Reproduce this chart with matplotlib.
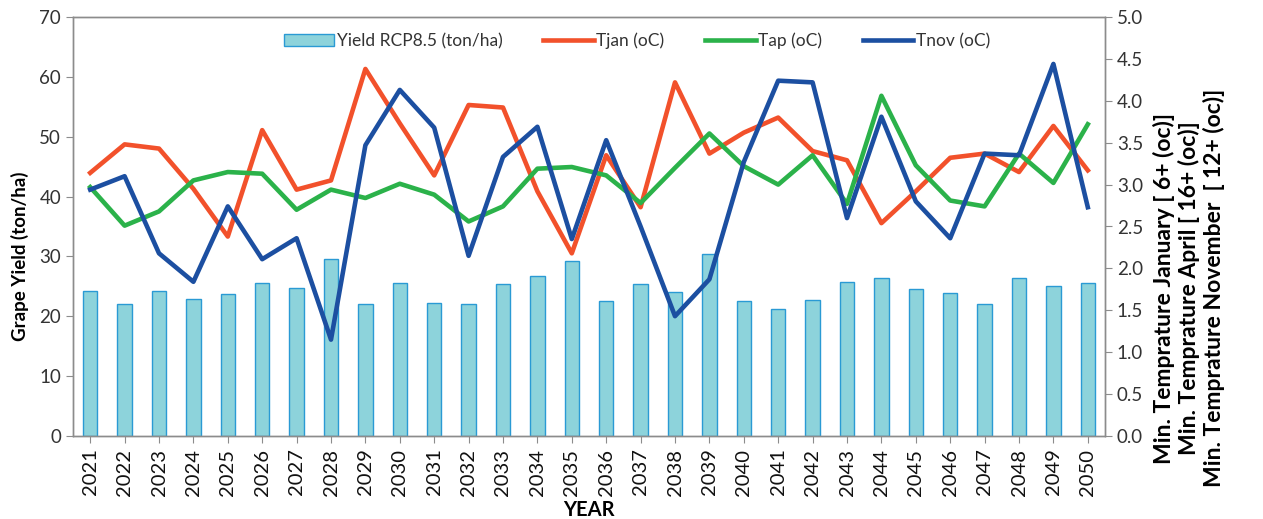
import matplotlib
matplotlib.use("Agg")
import matplotlib.pyplot as plt
import numpy as np

years = [str(y) for y in range(2021, 2051)]
yield_rcp85 = [24.2, 22.1, 24.2, 22.9, 23.7, 25.6, 24.8, 29.6, 22.1, 25.6,
               22.3, 22.0, 25.4, 26.7, 29.3, 22.5, 25.4, 24.1, 30.4, 22.5,
               21.2, 22.7, 25.7, 26.4, 24.6, 23.9, 22.1, 26.4, 25.0, 25.6]
tjan = [3.14, 3.48, 3.43, 2.95, 2.38, 3.65, 2.94, 3.05, 4.38, 3.73,
        3.11, 3.95, 3.92, 2.92, 2.18, 3.35, 2.73, 4.22, 3.37, 3.62,
        3.80, 3.40, 3.29, 2.54, 2.92, 3.32, 3.37, 3.15, 3.70, 3.17]
tap = [2.97, 2.51, 2.68, 3.05, 3.15, 3.13, 2.70, 2.94, 2.84, 3.01,
       2.88, 2.56, 2.74, 3.19, 3.21, 3.11, 2.78, 3.20, 3.61, 3.22,
       3.00, 3.35, 2.77, 4.06, 3.23, 2.81, 2.74, 3.37, 3.02, 3.72]
tnov = [2.94, 3.10, 2.18, 1.84, 2.74, 2.11, 2.36, 1.15, 3.47, 4.13,
        3.68, 2.15, 3.33, 3.69, 2.35, 3.53, 2.50, 1.43, 1.87, 3.27,
        4.24, 4.22, 2.60, 3.81, 2.80, 2.36, 3.37, 3.35, 4.44, 2.73]

plt.rcParams['font.family'] = ['Lato', 'DejaVu Sans']

W, H = 1263, 519
fig = plt.figure(figsize=(W/100, H/100), dpi=100)
L, R, T, B = 73, 1105, 17, 436
ax = fig.add_axes([L/W, 1-B/H, (R-L)/W, (B-T)/H])
ax2 = ax.twinx()

def fx(px):
    return (px - L) / (R - L)

def fy(py):
    return (B - py) / (B - T)

x = np.arange(len(years))
spine_c = '#8c8c8c'

bars = ax.bar(x, yield_rcp85, width=0.42, color='#8DD3DB', edgecolor='#2A9AD4',
              linewidth=1.0, label='Yield RCP8.5 (ton/ha)', zorder=2)
l1, = ax2.plot(x, tjan, color='#F2512B', lw=3.3, label='Tjan (oC)')
l2, = ax2.plot(x, tap, color='#2BB24A', lw=3.3, label='Tap (oC)')
l3, = ax2.plot(x, tnov, color='#1C4FA1', lw=3.3, label='Tnov (oC)')

ax.set_xlim(-0.5, len(years)-0.5)
ax.set_ylim(0, 70)
ax.set_yticks(range(0, 71, 10))
ax2.set_ylim(0, 5)
ax2.set_yticks(np.arange(0, 5.01, 0.5))
ax2.set_yticklabels([f"{v:.1f}" for v in np.arange(0, 5.01, 0.5)])

ax.set_xticks(x)
ax.set_xticklabels(years, rotation=90, fontsize=14.5)
ax.tick_params(axis='y', labelsize=13.5, color=spine_c, length=5, labelcolor='#333333')
ax.tick_params(axis='x', color=spine_c, length=5, labelcolor='#111111', pad=4)
ax2.tick_params(axis='y', labelsize=13.5, color=spine_c, length=5, labelcolor='#333333')

for a in (ax, ax2):
    for s in a.spines.values():
        s.set_color(spine_c)
        s.set_linewidth(1.0)

ax.set_ylabel('Grape Yield (ton/ha)', fontsize=13.5, fontweight='bold')
ax.yaxis.set_label_coords(fx(29), fy(256))
ax.set_xlabel('YEAR', fontsize=14.5, fontweight='bold')
ax.xaxis.set_label_coords(fx(589), fy(500))
ax2.set_ylabel('Min. Temprature January [ 6+ (oc)]\n'
               'Min. Temprature April [ 16+ (oc)]\n'
               'Min. Temprature November  [ 12+ (oc)]',
               fontsize=16.5, fontweight='bold', multialignment='center',
               linespacing=1.15)
ax2.yaxis.set_label_coords(fx(1153), fy(288))

ax2.legend(handles=[bars, l1, l2, l3], loc='center', ncol=4, frameon=False,
           fontsize=12.5, bbox_to_anchor=(fx(637), fy(41)), columnspacing=2.35,
           handlelength=2.9, handletextpad=0.15, borderaxespad=0.0,
           labelcolor='#333333')

fig.savefig('out.png', dpi=100)
